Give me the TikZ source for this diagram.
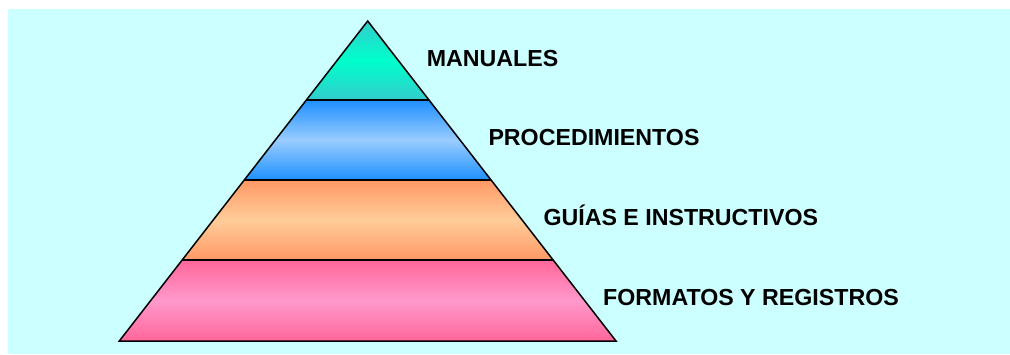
\documentclass[tikz,border=0pt]{standalone}
\usepackage{fontspec}
\setmainfont{Liberation Sans}
\usetikzlibrary{calc}
\definecolor{fondo}{HTML}{CCFFFF}
\definecolor{verdeExt}{HTML}{33CCCC}
\definecolor{verdeMed}{HTML}{00FFCC}
\definecolor{azulExt}{HTML}{1E90FF}
\definecolor{azulMed}{HTML}{99CCFF}
\definecolor{naranjaExt}{HTML}{FF9966}
\definecolor{naranjaMed}{HTML}{FFCC99}
\definecolor{rosaExt}{HTML}{FF6699}
\definecolor{rosaMed}{HTML}{FF99CC}
\tikzset{
  borde/.style = {line width=1.5pt, line join=miter, black},
  etiqueta/.style = {anchor=base west, inner sep=0pt, font=\fontsize{23.2}{27}\selectfont\bfseries}
}

\begin{document}
\begin{tikzpicture}[x=1pt, y=-1pt]
    % Marco
    \useasboundingbox (0,0) rectangle (1010,354);
    \fill[fondo] (8,9) rectangle (1010,354);

    % Vertices de la piramide
    \coordinate (vertice) at (367.7,21);
    \coordinate (baseIzq) at (119.3,341);
    \coordinate (baseDer) at (616,341);

    % Franjas
    \foreach \ta/\tb/\cext/\cmed in {0/0.247/verdeExt/verdeMed, 0.247/0.497/azulExt/azulMed, 0.497/0.747/naranjaExt/naranjaMed, 0.747/1/rosaExt/rosaMed}{
        \shade[top color=\cext, bottom color=\cext, middle color=\cmed]
            ($(vertice)!\ta!(baseIzq)$) -- ($(vertice)!\tb!(baseIzq)$) -- ($(vertice)!\tb!(baseDer)$) -- ($(vertice)!\ta!(baseDer)$) -- cycle;
    }

    % Contorno y divisiones
    \draw[borde] (vertice) -- (baseIzq) -- (baseDer) -- cycle;
    \foreach \t in {0.247, 0.497, 0.747}{
        \draw[borde] ($(vertice)!\t!(baseIzq)$) -- ($(vertice)!\t!(baseDer)$);
    }

    % Etiquetas
    \node[etiqueta] (manuales) at (426.7,66) {MANUALES};
    \node[etiqueta] (procedimientos) at (488.3,145) {PROCEDIMIENTOS};
    \node[etiqueta] (guias) at (543.3,225.7) {GUÍAS E INSTRUCTIVOS};
    \node[etiqueta] (formatos) at (603,305.5) {FORMATOS Y REGISTROS};
\end{tikzpicture}
\end{document}
